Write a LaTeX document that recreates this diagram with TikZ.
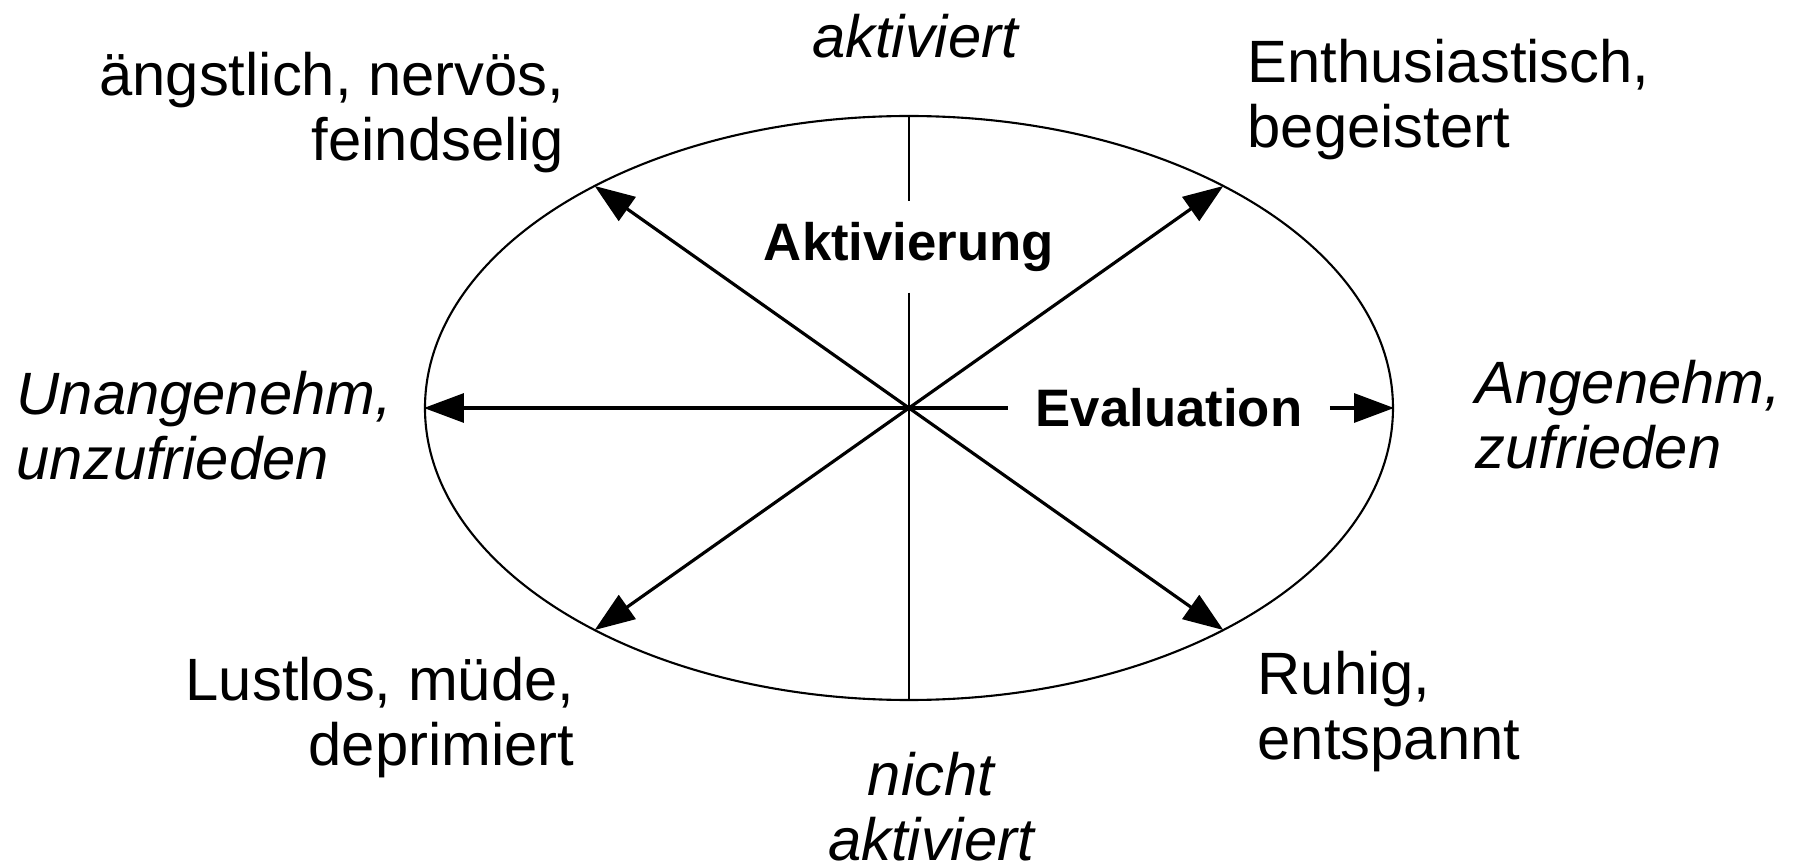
\documentclass[tikz,border=0pt]{standalone}
\usepackage{fontspec}
\setmainfont{Liberation Sans}
\usetikzlibrary{arrows.meta,shapes.geometric}

\begin{document}
\begin{tikzpicture}[x=1cm,y=1cm,
  lbl/.style={font=\fontsize{17}{18.5}\selectfont, inner sep=0pt},
  ax/.style={font=\fontsize{15}{17}\selectfont\bfseries},
  pfeil/.style={line width=0.9pt, -{Triangle[length=4mm,width=2.9mm]}}]
\useasboundingbox (-9.09,-4.55) rectangle (8.88,4.08);
\node[draw, ellipse, line width=0.6pt, minimum width=9.68cm, minimum height=5.84cm, inner sep=0pt] (circ) at (0,0) {};
\coordinate (o) at (0,0);
\coordinate (ol) at (130.5:4.84cm and 2.92cm);
\coordinate (or) at (49.5:4.84cm and 2.92cm);
\coordinate (ul) at (229.5:4.84cm and 2.92cm);
\coordinate (ur) at (310.5:4.84cm and 2.92cm);
\node[ax, minimum height=0.9cm] (aktiv) at (0,1.61) {Aktivierung};
\node[ax, inner xsep=0.27cm] (eval) at (2.6,0) {Evaluation};
\draw[line width=0.5pt] (circ.north) -- (aktiv.north);
\draw[line width=0.5pt] (aktiv.south) -- (circ.south);
\draw[pfeil] (o) -- (circ.west);
\draw[line width=0.9pt] (o) -- (eval.west);
\draw[pfeil] (eval.east) -- (circ.east);
\foreach \p in {ol,or,ul,ur} \draw[pfeil] (o) -- (\p);
\node[lbl, font=\fontsize{17}{18.5}\selectfont\itshape] (akt) at (0.06,3.72) {aktiviert};
\node[lbl, align=center, font=\fontsize{17}{18.5}\selectfont\itshape] (nakt) at (0.22,-3.99) {nicht\\aktiviert};
\node[lbl, align=right, anchor=east] (angst) at (-3.44,2.95) {ängstlich, nervös,\\feindselig};
\node[lbl, align=left, anchor=west] (enth) at (3.38,3.08) {Enthusiastisch,\\begeistert};
\node[lbl, align=left, anchor=west, font=\fontsize{17}{18.5}\selectfont\itshape] (unang) at (-8.93,-0.18) {Unangenehm,\\unzufrieden};
\node[lbl, align=left, anchor=west, font=\fontsize{17}{18.5}\selectfont\itshape] (ang) at (5.66,-0.07) {Angenehm,\\zufrieden};
\node[lbl, align=right, anchor=east] (lust) at (-3.34,-3.10) {Lustlos, müde,\\deprimiert};
\node[lbl, align=left, anchor=west] (ruhig) at (3.48,-3.04) {Ruhig,\\entspannt};
\end{tikzpicture}
\end{document}
